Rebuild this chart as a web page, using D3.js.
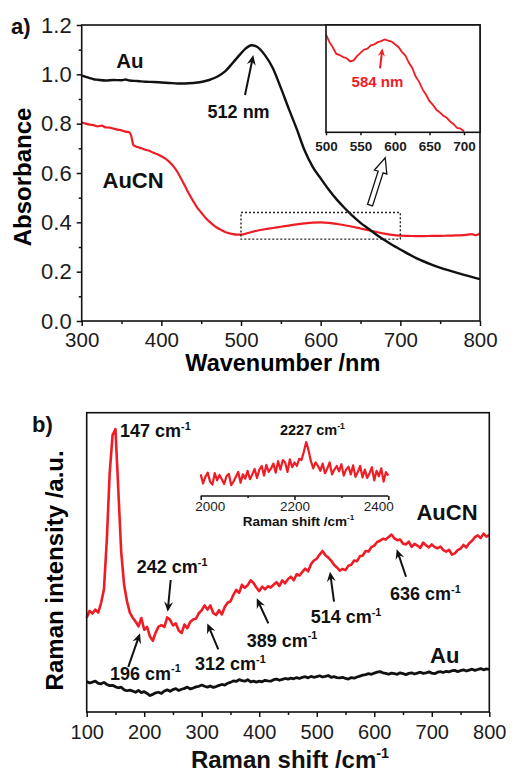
<!DOCTYPE html>
<html>
<head>
<meta charset="utf-8">
<script src="https://cdn.jsdelivr.net/npm/d3@7"></script>
<style>
  body { margin: 0; background: #fff; }
  text { font-family: "Liberation Sans", Arial, sans-serif; }
</style>
</head>
<body>
<svg id="chart" width="516" height="772"></svg>
<script>
//? PANEL A DATA (UV-vis absorbance)
const absXTicks = [300, 400, 500, 600, 700, 800]
const absXMinor = [350, 450, 550, 650, 750]
const absYTicks = [0, 0.2, 0.4, 0.6, 0.8, 1.0, 1.2]
const absYMinor = [0.1, 0.3, 0.5, 0.7, 0.9, 1.1]

const auNm = [300, 305, 310, 315, 320, 330, 340, 350, 355, 360, 370, 380, 390, 400, 410, 420, 430, 440, 450, 460,
  470, 480, 490, 500, 506, 513, 520, 530, 540, 550, 560, 570, 580, 590, 600, 610, 620, 630, 640, 650,
  660, 670, 680, 690, 700, 720, 740, 760, 780, 800]
const auAbs = [0.995, 0.99, 0.985, 0.98, 0.978, 0.975, 0.977, 0.976, 0.979, 0.975, 0.973, 0.97, 0.969, 0.967, 0.965, 0.963, 0.963, 0.965, 0.969, 0.977,
  0.99, 1.012, 1.048, 1.085, 1.105, 1.118, 1.112, 1.078, 1.025, 0.945, 0.86, 0.778, 0.69, 0.625, 0.578, 0.533, 0.493, 0.458, 0.426, 0.398,
  0.374, 0.35, 0.328, 0.308, 0.29, 0.255, 0.228, 0.206, 0.187, 0.17]

const aucnNm = [300, 305, 310, 315, 320, 325, 330, 335, 340, 345, 350, 355, 360, 362, 365, 370, 375, 380, 385, 390,
  395, 400, 405, 410, 415, 420, 425, 430, 435, 440, 445, 450, 455, 460, 465, 470, 475, 480, 485, 490,
  495, 500, 510, 520, 530, 540, 550, 560, 570, 580, 590, 600, 610, 620, 630, 640, 650, 660, 670, 680,
  690, 700, 710, 720, 730, 740, 750, 760, 770, 780, 790, 795, 800]
const aucnAbs = [0.805, 0.8, 0.796, 0.794, 0.789, 0.792, 0.785, 0.784, 0.78, 0.776, 0.773, 0.768, 0.765, 0.752, 0.713, 0.705, 0.7, 0.694, 0.69, 0.682,
  0.676, 0.668, 0.658, 0.645, 0.628, 0.605, 0.576, 0.545, 0.514, 0.486, 0.46, 0.44, 0.42, 0.404, 0.39, 0.378, 0.369, 0.361, 0.356, 0.352,
  0.35, 0.35, 0.358, 0.366, 0.372, 0.377, 0.382, 0.387, 0.392, 0.396, 0.399, 0.4, 0.398, 0.394, 0.388, 0.382, 0.375, 0.368, 0.361, 0.354,
  0.349, 0.346, 0.345, 0.344, 0.344, 0.345, 0.345, 0.346, 0.347, 0.348, 0.352, 0.348, 0.355]

//? inset of panel a: 500-700 nm zoom (arbitrary units)
const insetATicks = [500, 550, 600, 650, 700]
const insetANm = [500, 505, 510, 515, 520, 525, 530, 535, 540, 545, 550, 555, 560, 565, 570, 575, 580, 585, 590, 595,
  600, 605, 610, 615, 620, 625, 630, 635, 640, 645, 650, 655, 660, 665, 670, 675, 680, 685, 690, 695, 700]
const insetAVal = [0.91, 0.84, 0.79, 0.73, 0.72, 0.7, 0.69, 0.66, 0.67, 0.71, 0.74, 0.77, 0.78, 0.81, 0.82, 0.84, 0.85, 0.865, 0.855, 0.845,
  0.82, 0.795, 0.75, 0.715, 0.65, 0.6, 0.52, 0.47, 0.4, 0.35, 0.29, 0.255, 0.21, 0.185, 0.155, 0.135, 0.1, 0.075, 0.04, 0.035, 0.01]

//? PANEL B DATA (Raman), spectra sampled every 5 cm-1 from 100 to 800
const ramanXTicks = [100, 200, 300, 400, 500, 600, 700, 800]
const ramanXMinor = [150, 250, 350, 450, 550, 650, 750]
const ramanStart = 100
const ramanStep = 5
const ramanAuCN = [
  31.5, 33.8, 32.9, 34.2, 33.2, 36.4, 41.0, 57.5, 80.0, 92.5,
  94.5, 74.0, 53.5, 42.5, 37.0, 33.2, 31.5, 30.2, 28.6, 31.4,
  27.5, 28.4, 25.2, 23.8, 26.6, 28.5, 29.0, 28.4, 31.6, 30.8,
  28.9, 29.6, 27.2, 26.4, 29.2, 28.0, 30.1, 30.9, 31.2, 33.0,
  34.0, 35.6, 34.2, 35.6, 33.1, 32.4, 34.0, 32.6, 35.1, 36.5,
  37.0, 39.1, 40.8, 39.8, 42.5, 41.5, 42.4, 44.0, 43.1, 41.6,
  40.4, 41.9, 41.0, 42.0, 41.6, 42.5, 43.4, 42.1, 44.0, 43.0,
  44.4, 45.2, 44.0, 46.0, 45.6, 46.8, 47.9, 47.0, 49.4, 50.6,
  51.2, 52.6, 53.8, 52.4, 51.6, 50.6, 49.2, 48.3, 47.2, 47.8,
  47.4, 48.9, 49.2, 50.6, 50.4, 52.0, 52.3, 53.8, 53.6, 55.1,
  55.6, 56.8, 57.2, 57.9, 57.6, 58.5, 59.3, 58.0, 57.4, 57.6,
  56.2, 56.0, 56.9, 55.2, 56.2, 55.6, 54.8, 56.6, 55.7, 55.0,
  56.0, 55.1, 54.7, 55.3, 54.1, 53.6, 54.2, 52.6, 53.0, 54.1,
  54.6, 55.8, 55.0, 56.4, 57.2, 58.4, 59.0, 58.1, 59.6, 58.6,
  59.2]
const ramanAu = [
  10.2, 9.7, 10.0, 10.3, 9.6, 9.4, 9.9, 9.2, 8.8, 8.9,
  8.4, 8.1, 8.3, 7.4, 7.1, 7.3, 7.0, 6.6, 7.2, 6.5,
  6.8, 6.2, 5.5, 5.9, 6.4, 6.6, 6.2, 7.0, 7.4, 6.9,
  7.5, 7.8, 7.2, 7.6, 7.9, 8.3, 7.7, 8.0, 8.4, 8.6,
  9.0, 8.6, 8.3, 8.7, 8.2, 8.5, 8.9, 9.2, 9.0, 9.6,
  9.9, 10.4, 10.2, 10.8, 10.5, 10.3, 10.8, 10.1, 10.3, 10.0,
  10.3, 10.1, 10.6, 10.4, 10.3, 10.8, 11.0, 10.6, 10.9, 11.2,
  11.0, 11.3, 11.1, 11.5, 11.2, 11.6, 11.8, 11.4, 11.9, 11.6,
  11.8, 12.1, 11.7, 11.9, 12.2, 11.6, 11.8, 11.5, 11.4, 11.6,
  11.2, 11.0, 11.5, 11.3, 11.7, 12.0, 12.3, 12.5, 12.8, 12.6,
  13.0, 13.3, 13.5, 13.1, 12.9, 12.6, 13.0, 12.8, 12.6, 13.1,
  12.8, 12.5, 12.9, 13.1, 12.7, 13.0, 13.3, 12.9, 13.1, 13.4,
  13.0, 12.8, 13.3, 13.5, 13.2, 13.6, 13.4, 13.8, 13.9, 13.5,
  13.8, 14.1, 13.7, 14.0, 14.3, 13.9, 14.2, 14.5, 14.1, 14.4,
  14.2]

//? inset of panel b: 2000-2400 cm-1, sampled every 5 cm-1
const insetBTicks = [2000, 2200, 2400]
const insetBMinor = [2100, 2300]
const insetBStart = 2000
const insetBVal = [
  3.6, 2.1, 3.2, 3.9, 2.4, 1.9, 3.8, 2.6, 3.5, 2.8,
  2.0, 3.3, 3.7, 1.8, 2.4, 3.2, 4.0, 2.2, 3.6, 2.9,
  4.2, 2.8, 3.6, 4.5, 3.0, 4.4, 5.0, 3.4, 5.2, 4.0,
  4.6, 5.4, 3.9, 5.8, 4.4, 6.0, 5.6, 4.0, 6.1, 4.8,
  5.6, 5.0, 6.2, 6.0, 7.4, 9.0, 7.6, 5.8, 4.6, 5.6,
  5.0, 4.2, 5.4, 3.8, 4.6, 5.6, 3.6, 4.4, 5.0, 4.1,
  5.3, 3.4, 4.4, 4.9, 3.6, 5.1, 3.2, 4.0, 5.0, 3.1,
  4.4, 3.0, 3.8, 4.8, 2.6, 4.2, 3.3, 4.6, 2.4, 4.0,
  3.4]

//? annotation peaks (data coords)
const ramanPeaks = [
  { label: '242', tx: 187, ty: 46.3, from: [246, 44.1], to: [240.8, 33.5] },
  { label: '196', tx: 140.5, ty: 10.7, from: [172.3, 15.1], to: [192.7, 26.3] },
  { label: '312', tx: 288.3, ty: 14, from: [328.8, 20.9], to: [309.7, 29.6] },
  { label: '389', tx: 378.2, ty: 21.8, from: [415.8, 29.6], to: [395.6, 38] },
  { label: '514', tx: 489.5, ty: 29.6, from: [530, 36.9], to: [523, 46.9] },
  { label: '636', tx: 627.4, ty: 37.4, from: [655.2, 45.2], to: [639, 54.4] }
]

const RED = '#ee1c24'
const INK = '#111'
const FONT = '"Liberation Sans", Arial, sans-serif'

const svg = d3.select('#chart')

//* ========== HELPERS =============
const styleAxis = (g, size, bold) => {
  g.attr('font-size', null).attr('font-family', null)
  g.select('.domain').remove()
  g.selectAll('line').attr('stroke', INK).attr('stroke-width', 1.5)
  g.selectAll('text')
    .attr('font-size', size)
    .attr('font-weight', bold ? 'bold' : 'normal')
    .attr('fill', '#1c1c1c')
}

const frame = (g, b) => {
  g.append('rect')
    .attr('x', b.left).attr('y', b.top)
    .attr('width', b.right - b.left).attr('height', b.bottom - b.top)
    .attr('fill', 'none').attr('stroke', INK).attr('stroke-width', 1.6)
}

// filled arrow from (x1,y1) to tip (x2,y2)
const arrow = (g, x1, y1, x2, y2, color, hl = 10, hw = 4.5) => {
  const deg = Math.atan2(y2 - y1, x2 - x1) * 180 / Math.PI
  const len = Math.hypot(x2 - x1, y2 - y1)
  const ag = g.append('g').attr('transform', `translate(${x1},${y1}) rotate(${deg})`)
  ag.append('line').attr('x2', len - hl * 0.6).attr('stroke', color).attr('stroke-width', 2)
  ag.append('path')
    .attr('d', `M${len},0L${len - hl},${-hw}L${len - hl * 0.65},0L${len - hl},${hw}Z`)
    .attr('fill', color)
}

// open (outlined) block arrow
const hollowArrow = (g, x1, y1, x2, y2) => {
  const deg = Math.atan2(y2 - y1, x2 - x1) * 180 / Math.PI
  const L = Math.hypot(x2 - x1, y2 - y1)
  const s = 2.6, h = 6.5, hl = 15
  g.append('path')
    .attr('transform', `translate(${x1},${y1}) rotate(${deg})`)
    .attr('d', `M0,${-s}L${L - hl},${-s}L${L - hl},${-h}L${L},0L${L - hl},${h}L${L - hl},${s}L0,${s}Z`)
    .attr('fill', '#fff').attr('stroke', INK).attr('stroke-width', 1.3)
}

// bold label with a "-1" superscript
const supLabel = (g, x, y, base, size, anchor = 'start', color = INK) => {
  const t = g.append('text')
    .attr('x', x).attr('y', y)
    .attr('font-size', size).attr('font-weight', 'bold')
    .attr('text-anchor', anchor).attr('fill', color)
  t.append('tspan').text(base)
  t.append('tspan').attr('dy', -size * 0.42).attr('font-size', size * 0.6).text('-1')
  return t
}

const label = (g, x, y, txt, size, color = INK, anchor = 'start') =>
  g.append('text')
    .attr('x', x).attr('y', y)
    .attr('font-size', size).attr('font-weight', 'bold')
    .attr('text-anchor', anchor).attr('fill', color)
    .text(txt)

//* ========== PANEL A =============
const A = { left: 81.7, right: 480, top: 25, bottom: 321 }
const gA = svg.append('g')

const xA = d3.scaleLinear().domain([300, 800]).range([A.left, A.right])
const yA = d3.scaleLinear().domain([0, 1.2]).range([A.bottom, A.top])

gA.append('g').attr('transform', `translate(0,${A.bottom})`)
  .call(d3.axisBottom(xA).tickValues(absXTicks).tickSize(5).tickPadding(6).tickFormat(d3.format('d')))
  .call(g => styleAxis(g, 20.5))
gA.append('g').attr('transform', `translate(0,${A.bottom})`)
  .call(d3.axisBottom(xA).tickValues(absXMinor).tickSize(3).tickFormat(''))
  .call(g => styleAxis(g, 20.5))
gA.append('g').attr('transform', `translate(${A.left},0)`)
  .call(d3.axisLeft(yA).tickValues(absYTicks).tickSize(5).tickPadding(5).tickFormat(d3.format('.1f')))
  .call(g => styleAxis(g, 22))
gA.append('g').attr('transform', `translate(${A.left},0)`)
  .call(d3.axisLeft(yA).tickValues(absYMinor).tickSize(3).tickFormat(''))
  .call(g => styleAxis(g, 22))

const lineA = d3.line().x(d => xA(d[0])).y(d => yA(d[1])).curve(d3.curveMonotoneX)

gA.append('path').datum(d3.zip(aucnNm, aucnAbs))
  .attr('d', lineA).attr('fill', 'none').attr('stroke', RED).attr('stroke-width', 2.2)
gA.append('path').datum(d3.zip(auNm, auAbs))
  .attr('d', lineA).attr('fill', 'none').attr('stroke', INK).attr('stroke-width', 2.4)

// dotted zoom box 500-700 nm
gA.append('rect')
  .attr('x', xA(500)).attr('y', yA(0.44))
  .attr('width', xA(700) - xA(500)).attr('height', yA(0.332) - yA(0.44))
  .attr('fill', 'none').attr('stroke', '#222').attr('stroke-width', 1.4)
  .attr('stroke-dasharray', '2,2')

hollowArrow(gA, xA(662), yA(0.47), xA(681), yA(0.662))

frame(gA, A)

label(gA, xA(360.5), yA(1.024), 'Au', 20.5, INK, 'middle')
label(gA, xA(364.5), yA(0.538), 'AuCN', 22, INK, 'middle')
label(gA, xA(497), yA(0.823), '512 nm', 18, INK, 'middle')
arrow(gA, xA(505), yA(0.916), xA(515.4), yA(1.078), INK)

// axis titles
gA.append('text')
  .attr('x', (A.left + A.right) / 2 + 2).attr('y', 370.5)
  .attr('text-anchor', 'middle').attr('font-size', 23.5).attr('font-weight', 'bold')
  .text('Wavenumber /nm')
gA.append('text')
  .attr('transform', `translate(31,${(A.top + A.bottom) / 2 + 4}) rotate(-90)`)
  .attr('text-anchor', 'middle').attr('font-size', 24).attr('font-weight', 'bold')
  .text('Absorbance')
label(gA, 11, 34, 'a)', 22)

//? inset a
const IA = { left: 326, right: A.right, top: A.top, bottom: 132.3 }
const xIA = d3.scaleLinear().domain([500, 723.2]).range([IA.left, IA.right])
const yIA = d3.scaleLinear().domain([0, 1]).range([IA.bottom, IA.top])

gA.append('rect')
  .attr('x', IA.left).attr('y', IA.top)
  .attr('width', IA.right - IA.left).attr('height', IA.bottom - IA.top)
  .attr('fill', '#fff')
gA.append('g').attr('transform', `translate(0,${IA.bottom})`)
  .call(d3.axisBottom(xIA).tickValues(insetATicks).tickSize(3).tickPadding(6).tickFormat(d3.format('d')))
  .call(g => styleAxis(g, 13.5, true))
gA.append('path').datum(d3.zip(insetANm, insetAVal))
  .attr('d', d3.line().x(d => xIA(d[0])).y(d => yIA(d[1])))
  .attr('fill', 'none').attr('stroke', RED).attr('stroke-width', 1.8)
frame(gA, IA)
label(gA, xIA(574.6), yIA(0.425), '584 nm', 15, RED, 'middle')
arrow(gA, xIA(578.3), yIA(0.596), xIA(581.7), yIA(0.783), RED, 8, 3.5)

//* ========== PANEL B =============
const B = { left: 86.7, right: 489.3, top: 412.7, bottom: 712 }
const gB = svg.append('g')

const xB = d3.scaleLinear().domain([100, 800]).range([B.left, B.right])
const yB = d3.scaleLinear().domain([0, 100]).range([B.bottom, B.top])

gB.append('g').attr('transform', `translate(0,${B.bottom})`)
  .call(d3.axisBottom(xB).tickValues(ramanXTicks).tickSize(5).tickPadding(8).tickFormat(d3.format('d')))
  .call(g => styleAxis(g, 20))
gB.append('g').attr('transform', `translate(0,${B.bottom})`)
  .call(d3.axisBottom(xB).tickValues(ramanXMinor).tickSize(3).tickFormat(''))
  .call(g => styleAxis(g, 20))

const lineB = d3.line().x(d => xB(d[0])).y(d => yB(d[1]))
const ramanX = ramanAuCN.map((_, i) => ramanStart + i * ramanStep)

gB.append('path').datum(d3.zip(ramanX, ramanAuCN))
  .attr('d', lineB).attr('fill', 'none').attr('stroke', RED).attr('stroke-width', 2.6)
  .attr('stroke-linejoin', 'round')
gB.append('path').datum(d3.zip(ramanX, ramanAu))
  .attr('d', lineB).attr('fill', 'none').attr('stroke', INK).attr('stroke-width', 2.8)
  .attr('stroke-linejoin', 'round')

frame(gB, B)

supLabel(gB, xB(158), yB(91.8), '147 cm', 18)
ramanPeaks.forEach(p => {
  supLabel(gB, xB(p.tx), yB(p.ty), `${p.label} cm`, 18)
  arrow(gB, xB(p.from[0]), yB(p.from[1]), xB(p.to[0]), yB(p.to[1]), INK)
})
label(gB, xB(673.3), yB(64.1), 'AuCN', 22)
label(gB, xB(697), yB(16.3), 'Au', 22)

// axis titles
supLabel(gB, (B.left + B.right) / 2 + 2, 768, 'Raman shift /cm', 24, 'middle')
gB.append('text')
  .attr('transform', `translate(63,${(B.top + B.bottom) / 2 + 8}) rotate(-90)`)
  .attr('text-anchor', 'middle').attr('font-size', 24).attr('font-weight', 'bold')
  .text('Raman intensity /a.u.')
label(gB, 32, 432, 'b)', 22)

//? inset b
const xIB = d3.scaleLinear().domain([2000, 2400]).range([200.7, 388.3])
const yIB = d3.scaleLinear().domain([0, 10]).range([496, 436])

gB.append('path')
  .attr('d', `M${xIB(2000)},${yIB(0)}H${xIB(2400)}`)
  .attr('stroke', INK).attr('stroke-width', 1.6)
gB.append('g').attr('transform', `translate(0,${yIB(0)})`)
  .call(d3.axisBottom(xIB).tickValues(insetBTicks).tickSize(4).tickPadding(1).tickFormat(d3.format('d')))
  .call(g => styleAxis(g, 13.5))
  .call(g => {
    g.selectAll('text').filter(d => d === 2000).attr('dx', 9)
    g.selectAll('text').filter(d => d === 2400).attr('dx', -10)
  })
gB.append('g').attr('transform', `translate(0,${yIB(0)})`)
  .call(d3.axisBottom(xIB).tickValues(insetBMinor).tickSize(2).tickFormat(''))
  .call(g => styleAxis(g, 13.5))

const insetBX = insetBVal.map((_, i) => insetBStart + i * ramanStep)
gB.append('path').datum(d3.zip(insetBX, insetBVal))
  .attr('d', d3.line().x(d => xIB(d[0])).y(d => yIB(d[1])))
  .attr('fill', 'none').attr('stroke', RED).attr('stroke-width', 2.2)
  .attr('stroke-linejoin', 'round')

supLabel(gB, xIB(2169), yIB(10.2), '2227 cm', 14.5)
supLabel(gB, (xIB(2000) + xIB(2400)) / 2 + 4, 525.5, 'Raman shift /cm', 13.5, 'middle')

svg.selectAll('text').attr('font-family', FONT)
</script>
</body>
</html>
